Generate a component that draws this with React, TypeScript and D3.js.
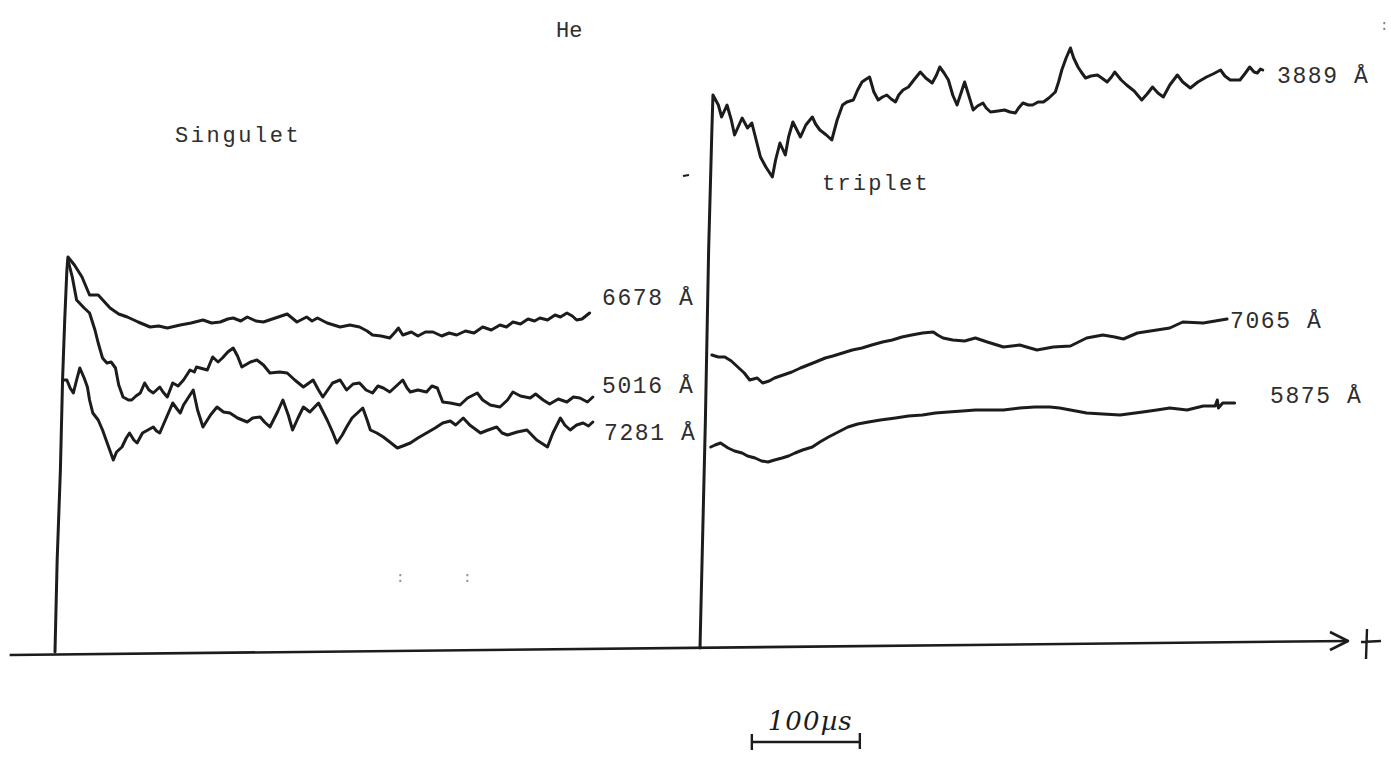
import React from "react";
import * as d3 from "d3";

// Singulet panel traces: [time (µs) from panel origin, intensity (arb. units)]
const singulet6678: [number, number][] = [
  [0,0],[2,92],[5,182],[7,272],[9,332],[11,382],[12,395],[18,387],[25,375],[32,357],[40,357],[51,344],[59,338],[67,335],[77,330],[88,325],[96,326],[104,324],[116,327],[126,329],[137,332],[145,329],[153,330],[160,333],[165,334],[172,331],[178,335],[186,331],[193,330],[204,334],[215,338],[224,330],[233,335],[238,331],[243,334],[252,329],[264,325],[273,327],[282,325],[289,321],[294,317],[302,316],[310,314],[315,320],[318,324],[322,317],[330,320],[336,316],[343,320],[350,320],[358,316],[365,319],[372,317],[380,321],[388,319],[396,325],[404,322],[412,327],[418,325],[424,330],[431,328],[438,333],[444,331],[449,334],[456,332],[463,337],[468,335],[474,339],[479,336],[483,332],[488,333],[495,339]
];
const singulet5016: [number, number][] = [
  [12,392],[16,375],[20,352],[27,344],[32,339],[37,322],[40,309],[44,294],[48,289],[52,290],[56,284],[59,267],[63,255],[68,252],[71,252],[75,256],[79,259],[83,269],[87,262],[91,259],[97,265],[100,260],[104,255],[109,269],[114,266],[119,272],[125,282],[129,280],[131,285],[141,282],[146,295],[151,290],[155,294],[160,300],[165,304],[169,296],[173,285],[181,290],[187,292],[193,287],[199,279],[208,280],[215,279],[222,272],[230,265],[239,272],[244,262],[248,255],[257,269],[264,272],[270,262],[276,268],[282,269],[288,262],[294,259],[299,266],[304,264],[310,260],[317,267],[322,272],[326,264],[329,260],[336,262],[344,260],[349,266],[354,264],[359,250],[366,249],[375,247],[382,254],[391,259],[396,252],[403,247],[412,245],[419,252],[424,260],[431,256],[440,254],[445,258],[452,252],[458,248],[466,253],[474,250],[480,255],[486,254],[493,250],[498,255]
];
const singulet7281: [number, number][] = [
  [7,272],[11,272],[14,264],[17,259],[20,272],[23,284],[27,274],[30,265],[32,252],[35,239],[40,232],[44,222],[49,207],[54,192],[57,200],[62,205],[66,214],[69,219],[73,212],[76,209],[79,215],[81,219],[86,222],[91,225],[94,221],[97,219],[103,234],[109,249],[113,243],[116,239],[119,247],[122,252],[128,262],[132,242],[137,225],[144,237],[150,245],[156,240],[162,239],[169,234],[178,230],[183,234],[190,235],[194,230],[199,225],[206,240],[211,252],[216,237],[220,222],[225,234],[230,245],[236,240],[244,249],[252,232],[257,220],[261,209],[266,217],[270,225],[275,234],[280,239],[285,244],[289,232],[292,222],[298,219],[304,215],[310,210],[317,204],[322,206],[329,209],[336,214],[344,219],[352,224],[359,229],[366,231],[371,227],[378,234],[384,227],[394,219],[401,222],[409,225],[414,219],[419,217],[428,220],[437,222],[446,212],[456,205],[461,219],[468,234],[472,227],[477,222],[483,227],[489,229],[494,226],[498,230]
];

// Triplet panel traces
const triplet3889: [number, number][] = [
  [0,4],[5,232],[8,402],[11,522],[12,557],[17,547],[20,535],[25,547],[29,532],[32,517],[39,534],[44,524],[48,529],[52,512],[56,495],[61,485],[67,475],[70,492],[74,509],[79,497],[82,515],[86,530],[93,515],[98,527],[104,535],[107,528],[111,522],[117,517],[122,512],[127,532],[132,547],[136,550],[142,552],[146,562],[150,570],[154,573],[157,575],[161,560],[165,552],[169,555],[173,557],[177,553],[181,550],[184,557],[188,562],[193,565],[198,572],[204,580],[209,574],[215,569],[219,577],[222,585],[226,579],[230,572],[234,557],[238,547],[242,560],[245,570],[249,556],[253,542],[257,546],[262,549],[265,544],[269,540],[276,541],[282,542],[287,540],[292,539],[295,544],[299,549],[304,547],[308,547],[313,550],[318,550],[323,554],[329,560],[332,570],[335,582],[339,594],[343,604],[346,594],[350,585],[353,580],[357,574],[362,576],[368,577],[372,574],[377,570],[381,575],[384,580],[390,572],[395,567],[402,561],[409,552],[414,558],[419,565],[424,559],[429,555],[435,567],[442,577],[447,570],[454,564],[461,570],[469,575],[475,578],[482,582],[486,576],[491,572],[500,572],[505,579],[509,585],[513,580],[516,579],[519,583],[521,582]
];
const triplet7065: [number, number][] = [
  [11,297],[17,295],[23,295],[29,291],[35,285],[41,279],[46,272],[53,274],[58,269],[64,271],[69,274],[77,277],[85,280],[93,284],[100,287],[107,290],[116,294],[123,296],[132,299],[141,302],[150,304],[159,307],[169,310],[178,312],[187,315],[196,317],[206,319],[216,320],[220,317],[225,314],[234,312],[245,311],[255,314],[266,310],[281,305],[296,307],[312,302],[327,305],[343,306],[358,314],[373,317],[384,315],[392,313],[405,319],[423,322],[435,324],[447,330],[466,329],[488,333]
];
const triplet5875: [number, number][] = [
  [10,205],[14,207],[19,209],[26,204],[32,201],[39,199],[44,196],[51,194],[57,191],[63,190],[69,192],[76,194],[82,196],[88,199],[95,202],[104,205],[111,210],[119,215],[128,220],[137,225],[146,228],[156,230],[167,232],[181,234],[193,236],[206,237],[218,239],[230,240],[243,241],[255,242],[269,242],[281,242],[296,244],[310,245],[324,245],[333,244],[343,242],[358,239],[373,238],[389,237],[403,239],[410,240],[423,242],[435,244],[451,242],[466,246],[477,246],[479,252],[480,244],[484,249],[495,249]
];

const waveLabels = ["6678 Å", "5016 Å", "7281 Å", "7065 Å", "5875 Å", "3889 Å"];
const panelTitles = ["Singulet", "triplet"];
const mainTitle = "He";
const scaleBarLabel = "100µs";
const scaleBarUs = [48, 148];

const W = 1391, H = 758;

export default function App() {
  const y = d3.scaleLinear().domain([0, 600]).range([652, 52]);
  const xS = d3.scaleLinear().domain([0, 100]).range([55, 163]);
  const xT = d3.scaleLinear().domain([0, 100]).range([700, 808]);

  const lineS = d3.line<[number, number]>().x(d => xS(d[0])).y(d => y(d[1]));
  const lineT = d3.line<[number, number]>().x(d => xT(d[0])).y(d => y(d[1]));

  const ink = "#1c1c1c";
  const textInk = "#2e2e2e";
  const mono = "'Liberation Mono', 'DejaVu Sans Mono', monospace";

  const axX0 = xS(-42), axY0 = y(-3);
  const axX1 = xT(600), axY1 = y(11);

  const sb0 = xT(scaleBarUs[0]), sb1 = xT(scaleBarUs[1]);
  const sbY = 742;

  const lineStyle = { fill: "none", stroke: ink, strokeWidth: 3, strokeLinejoin: "round" as const, strokeLinecap: "round" as const };

  return (
    <svg width={W} height={H} style={{ position: "absolute", left: 0, top: 0, background: "#fff" }}>
      {/* traces */}
      <path d={lineS(singulet6678) || ""} {...lineStyle} />
      <path d={lineS(singulet5016) || ""} {...lineStyle} />
      <path d={lineS(singulet7281) || ""} {...lineStyle} />
      <path d={lineT(triplet3889) || ""} {...lineStyle} />
      <path d={lineT(triplet7065) || ""} {...lineStyle} />
      <path d={lineT(triplet5875) || ""} {...lineStyle} />

      {/* time axis */}
      <line x1={axX0} y1={axY0} x2={axX1} y2={axY1} stroke={ink} strokeWidth={2.6} />
      <path d={`M${axX1 - 18},${axY1 - 9} L${axX1},${axY1} L${axX1 - 18},${axY1 + 9}`} fill="none" stroke={ink} strokeWidth={2.6} strokeLinejoin="round" />
      <path d={`M${axX1 + 19},${axY1 - 12} L${axX1 + 18},${axY1 + 18} M${axX1 + 13},${axY1 + 1} L${axX1 + 33},${axY1}`} fill="none" stroke={ink} strokeWidth={2.4} />

      {/* scale bar */}
      <line x1={sb0} y1={sbY} x2={sb1} y2={sbY} stroke={ink} strokeWidth={2.4} />
      <line x1={sb0} y1={sbY - 8} x2={sb0} y2={sbY + 8} stroke={ink} strokeWidth={2.4} />
      <line x1={sb1} y1={sbY - 9} x2={sb1} y2={sbY + 7} stroke={ink} strokeWidth={2.4} />
      <text x={sb0 + 16} y={730} fontFamily="'DejaVu Serif', serif" fontStyle="italic" fontSize={26} letterSpacing={1} fill={ink}>{scaleBarLabel}</text>

      {/* titles */}
      <text x={556} y={37} fontFamily={mono} fontSize={22} fill={textInk}>{mainTitle}</text>
      <text x={175} y={142} fontFamily={mono} fontSize={22} letterSpacing={2.6} fill={textInk}>{panelTitles[0]}</text>
      <text x={822} y={190} fontFamily={mono} fontSize={22} letterSpacing={2.2} fill={textInk}>{panelTitles[1]}</text>

      {/* wavelength labels */}
      <text x={602} y={305} fontFamily={mono} fontSize={23} letterSpacing={1.6} fill={textInk}>{waveLabels[0]}</text>
      <text x={602} y={393} fontFamily={mono} fontSize={23} letterSpacing={1.6} fill={textInk}>{waveLabels[1]}</text>
      <text x={604} y={440} fontFamily={mono} fontSize={23} letterSpacing={1.6} fill={textInk}>{waveLabels[2]}</text>
      <text x={1230} y={328} fontFamily={mono} fontSize={23} letterSpacing={1.6} fill={textInk}>{waveLabels[3]}</text>
      <text x={1270} y={403} fontFamily={mono} fontSize={23} letterSpacing={1.6} fill={textInk}>{waveLabels[4]}</text>
      <text x={1277} y={83} fontFamily={mono} fontSize={23} letterSpacing={1.6} fill={textInk}>{waveLabels[5]}</text>

      {/* stray marks of the original scan */}
      <line x1={683} y1={176} x2={689} y2={175} stroke={ink} strokeWidth={2} />
      <text x={1380} y={30} fontFamily={mono} fontSize={14} fill="#777">:</text>
      <text x={396} y={582} fontFamily={mono} fontSize={14} fill="#888">:</text>
      <text x={463} y={582} fontFamily={mono} fontSize={14} fill="#888">:</text>
    </svg>
  );
}
